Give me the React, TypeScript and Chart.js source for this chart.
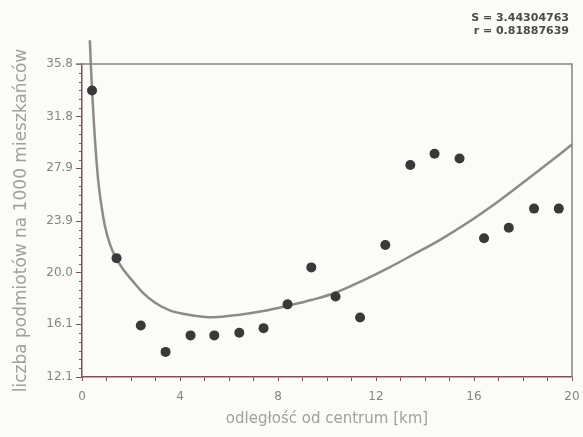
import React, { useEffect, useRef } from "react";
import { Chart, registerables } from "chart.js";

Chart.register(...registerables);

// Observed points: distance from centre [km] vs. number of entities per 1000 inhabitants
const distanceKm = [0.41, 1.41, 2.4, 3.41, 4.43, 5.4, 6.42, 7.41, 8.39, 9.36, 10.35, 11.35, 12.38, 13.4, 14.39, 15.41, 16.41, 17.42, 18.45, 19.46];
const entitiesPer1000 = [33.8, 21.1, 16.0, 14.0, 15.25, 15.25, 15.45, 15.8, 17.6, 20.4, 18.2, 16.6, 22.1, 28.15, 29.0, 28.65, 22.6, 23.4, 24.85, 24.85];

// Fitted curve
const fitX = [0.32, 0.36, 0.41, 0.5, 0.66, 0.8, 0.94, 1.15, 1.39, 1.7, 2.02, 2.5, 3.0, 3.58, 4.4, 5.35, 6.44, 7.4, 8.4, 9.4, 10.37, 11.46, 12.55, 13.55, 14.58, 15.67, 17.03, 18.38, 20];
const fitY = [37.6, 35.8, 33.8, 30.9, 27.0, 25.0, 23.5, 22.1, 21.1, 20.2, 19.47, 18.45, 17.7, 17.15, 16.8, 16.62, 16.82, 17.1, 17.5, 17.95, 18.5, 19.4, 20.4, 21.4, 22.45, 23.7, 25.45, 27.35, 29.7];

const yTickValues = [12.1, 16.1, 20.0, 23.9, 27.9, 31.8, 35.8];
const xTickLabels = [0, 4, 8, 12, 16, 20];

const statLines = ["S = 3.44304763", "r = 0.81887639"];

const xTitle = "odległość od centrum [km]";
const yTitle = "liczba podmiotów na 1000 mieszkańców";

const AXIS = "#7d4f60";
const FRAME = "#8b8083";
const TICK_TEXT = "#858585";
const TITLE_TEXT = "#a0a0a0";
const FONT = "'DejaVu Sans', sans-serif";

const decorPlugin = {
  id: "decor",
  afterDraw(chart: any) {
    const { ctx, chartArea, scales } = chart;
    const ys = scales.y;
    ctx.save();
    // frame top and right
    ctx.strokeStyle = FRAME;
    ctx.lineWidth = 1.5;
    ctx.beginPath();
    ctx.moveTo(chartArea.left - 6, chartArea.top);
    ctx.lineTo(chartArea.right, chartArea.top);
    ctx.lineTo(chartArea.right, chartArea.bottom);
    ctx.stroke();
    // minor y ticks
    ctx.strokeStyle = AXIS;
    ctx.lineWidth = 1;
    for (let i = 0; i < yTickValues.length - 1; i++) {
      const a = yTickValues[i];
      const b = yTickValues[i + 1];
      for (let k = 1; k < 6; k++) {
        const v = a + ((b - a) * k) / 6;
        const py = Math.round(ys.getPixelForValue(v)) + 0.5;
        ctx.beginPath();
        ctx.moveTo(chartArea.left - 3, py);
        ctx.lineTo(chartArea.left, py);
        ctx.stroke();
      }
    }
    // stats text
    ctx.fillStyle = "#4a4a4a";
    ctx.font = "bold 11px " + FONT;
    ctx.textAlign = "right";
    ctx.textBaseline = "middle";
    ctx.fillText(statLines[0], 569, 18);
    ctx.fillText(statLines[1], 569, 31);
    ctx.restore();
  },
};

export default function App() {
  const canvasRef = useRef<HTMLCanvasElement | null>(null);

  useEffect(() => {
    const canvas = canvasRef.current;
    if (!canvas) return;
    const chart = new Chart(canvas, {
      type: "scatter",
      data: {
        datasets: [
          {
            label: "fit",
            data: fitX.map((x, i) => ({ x, y: fitY[i] })),
            showLine: true,
            borderColor: "#8d8a8b",
            borderWidth: 2.5,
            pointRadius: 0,
            cubicInterpolationMode: "monotone",
            clip: false as any,
            order: 2,
          },
          {
            label: "data",
            data: distanceKm.map((x, i) => ({ x, y: entitiesPer1000[i] })),
            showLine: false,
            pointRadius: 5,
            pointBackgroundColor: "#3a3838",
            pointBorderColor: "#3a3838",
            pointBorderWidth: 0,
            order: 1,
          },
        ],
      },
      options: {
        responsive: false,
        maintainAspectRatio: false,
        animation: false,
        layout: { autoPadding: false, padding: { top: 64, right: 11, left: 0, bottom: 0 } },
        plugins: { legend: { display: false }, tooltip: { enabled: false }, title: { display: false } },
        scales: {
          x: {
            type: "linear",
            min: 0,
            max: 20,
            afterBuildTicks: (s: any) => {
              const t = [];
              for (let v = 0; v <= 20; v++) t.push({ value: v });
              s.ticks = t;
            },
            afterFit: (s: any) => {
              s.height = 60;
              s.paddingLeft = 0;
              s.paddingRight = 0;
            },
            ticks: {
              autoSkip: false,
              maxRotation: 0,
              color: TICK_TEXT,
              font: { family: FONT, size: 12 },
              padding: 9,
              callback: (v: any) => (xTickLabels.includes(Number(v)) ? String(v) : ""),
            },
            grid: { drawOnChartArea: false, drawTicks: true, tickLength: 4, color: AXIS, lineWidth: 1 },
            border: { display: true, color: AXIS, width: 1.5 },
            title: {
              display: true,
              text: xTitle,
              color: TITLE_TEXT,
              font: { family: FONT, size: 15 },
              padding: { top: 0, bottom: 9 },
            },
          },
          y: {
            type: "linear",
            min: 12.1,
            max: 35.8,
            afterBuildTicks: (s: any) => {
              s.ticks = yTickValues.map((v) => ({ value: v }));
            },
            afterFit: (s: any) => {
              s.width = 82;
              s.paddingTop = 0;
              s.paddingBottom = 0;
            },
            ticks: {
              autoSkip: false,
              color: TICK_TEXT,
              font: { family: FONT, size: 12 },
              padding: 3,
              callback: (v: any) => Number(v).toFixed(1),
            },
            grid: { drawOnChartArea: false, drawTicks: true, tickLength: 6, color: AXIS, lineWidth: 1 },
            border: { display: true, color: AXIS, width: 1.5 },
            title: {
              display: true,
              text: yTitle,
              color: TITLE_TEXT,
              font: { family: FONT, size: 17 },
              padding: { top: 11, bottom: 0 },
            },
          },
        },
      },
      plugins: [decorPlugin],
    });
    return () => chart.destroy();
  }, []);

  return (
    <div style={{ position: "absolute", left: 0, top: 0, width: 583, height: 437, background: "#fbfbf8" }}>
      <canvas ref={canvasRef} width={583} height={437} style={{ display: "block" }} />
    </div>
  );
}
